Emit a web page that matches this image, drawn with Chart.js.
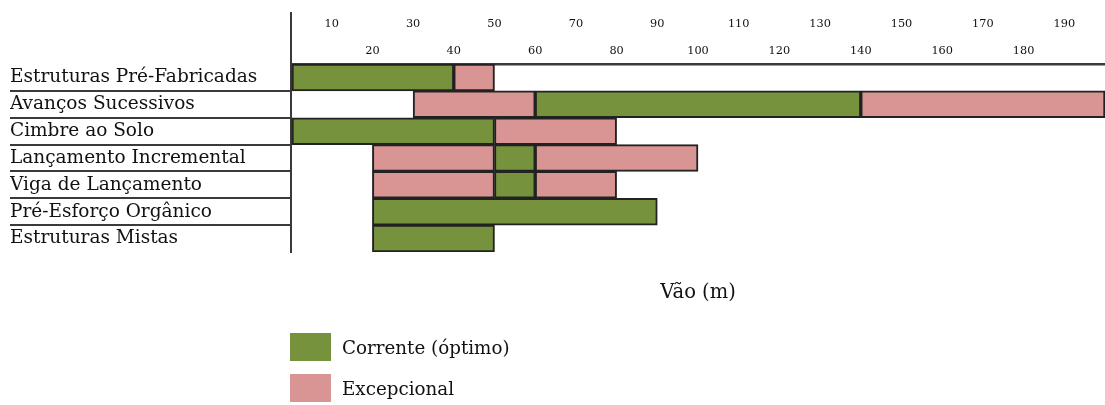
<!DOCTYPE html>
<html>
<head>
<meta charset="utf-8">
<title>Vão (m)</title>
<script src="https://cdn.jsdelivr.net/npm/chart.js@4.4.0/dist/chart.umd.min.js"></script>
<style>
    body { margin: 0; background: #fff; }
    #wrap { position: relative; width: 1105px; height: 405px; }
    #legend { position: absolute; left: 290px; top: 333px; font-family: 'DejaVu Serif', serif; font-size: 18.3px; color: #111; }
    .item { display: flex; align-items: center; height: 28px; margin-bottom: 13px; }
    .box { width: 41px; height: 28px; margin-right: 11px; }
</style>
</head>
<body>
<div id="wrap">
    <canvas id="spanChart"></canvas>
    <div id="legend"></div>
</div>
<script>
const categories = [
    'Estruturas Pré-Fabricadas',
    'Avanços Sucessivos',
    'Cimbre ao Solo',
    'Lançamento Incremental',
    'Viga de Lançamento',
    'Pré-Esforço Orgânico',
    'Estruturas Mistas'
];
// [start, end] span ranges in metres
const correnteRanges = [[0, 40], [60, 140], [0, 50], [50, 60], [50, 60], [20, 90], [20, 50]];
const excepcionalRanges = [[40, 50], [30, 60], [50, 80], [20, 50], [20, 50], null, null];
const excepcionalExtraRanges = [null, [140, 200], null, [60, 100], [60, 80], null, null];
const tickValues = [10, 20, 30, 40, 50, 60, 70, 80, 90, 100, 110, 120, 130, 140, 150, 160, 170, 180, 190];
const axisMin = 0;
const axisMax = 200;

const GREEN = '#76923C';
const PINK = '#D99594';
const serif = 'DejaVu Serif';

function buildLegend(chart) {
    const legend = document.getElementById('legend');
    legend.innerHTML = '';
    chart.data.datasets.forEach(ds => {
        if (ds.hideInLegend) return;
        const item = document.createElement('div');
        item.className = 'item';
        const box = document.createElement('span');
        box.className = 'box';
        box.style.background = ds.backgroundColor;
        const txt = document.createElement('span');
        txt.textContent = ds.label;
        item.appendChild(box);
        item.appendChild(txt);
        legend.appendChild(item);
    });
}

const barStyle = {
    borderColor: '#222',
    borderWidth: 2,
    borderSkipped: false,
    barPercentage: 1,
    categoryPercentage: 1,
    grouped: false,
    xAxisID: 'x'
};

const ctx = document.getElementById('spanChart').getContext('2d');
const chart = new Chart(ctx, {
    type: 'bar',
    data: {
        labels: categories,
        datasets: [
            Object.assign({ label: 'Corrente (óptimo)', data: correnteRanges, backgroundColor: GREEN }, barStyle),
            Object.assign({ label: 'Excepcional', data: excepcionalRanges, backgroundColor: PINK }, barStyle),
            Object.assign({ label: 'Excepcional', data: excepcionalExtraRanges, backgroundColor: PINK, hideInLegend: true }, barStyle)
        ]
    },
    options: {
        indexAxis: 'y',
        responsive: true,
        maintainAspectRatio: false,
        animation: false,
        layout: { padding: { left: 10, right: 0, top: 0, bottom: 93 } },
        plugins: {
            legend: { display: false },
            tooltip: { enabled: false }
        },
        scales: {
            x: {
                type: 'linear',
                position: 'top',
                min: axisMin,
                max: axisMax,
                afterBuildTicks: scale => {
                    scale.ticks = [axisMin].concat(tickValues).map(v => ({ value: v }));
                },
                afterFit: scale => { scale.height = 64; },
                grid: {
                    display: true,
                    drawOnChartArea: false,
                    drawTicks: true,
                    tickLength: 52,
                    lineWidth: 2,
                    color: c => (c.tick && c.tick.value === axisMin) ? '#3a3a3a' : 'rgba(0,0,0,0)'
                },
                border: { display: true, color: '#3a3a3a', width: 2.5 },
                ticks: {
                    autoSkip: false,
                    maxRotation: 0,
                    padding: -53,
                    color: '#111',
                    font: { family: serif, size: 11.3, lineHeight: 27 / 11.3 },
                    callback: function(value) {
                        const i = tickValues.indexOf(value);
                        if (i < 0) return ['', ''];
                        return i % 2 === 0 ? [String(value), ''] : ['', String(value)];
                    }
                }
            },
            x2: {
                type: 'linear',
                position: 'bottom',
                min: axisMin,
                max: axisMax,
                afterFit: scale => { scale.height = 60; },
                grid: { display: false },
                border: { display: false },
                ticks: { display: false },
                title: {
                    display: true,
                    text: 'Vão (m)',
                    color: '#111',
                    font: { family: serif, size: 19.5 },
                    padding: { top: 0, bottom: 7.6 }
                }
            },
            y: {
                position: 'left',
                offset: true,
                afterFit: scale => { scale.width = 281; },
                grid: {
                    display: true,
                    offset: true,
                    drawOnChartArea: false,
                    drawTicks: true,
                    tickLength: 281,
                    lineWidth: 2,
                    color: c => (c.type === 'tick' && c.index > 0) ? '#3a3a3a' : 'rgba(0,0,0,0)'
                },
                border: { display: true, color: '#3a3a3a', width: 2 },
                ticks: {
                    crossAlign: 'far',
                    padding: 0,
                    color: '#111',
                    font: { family: serif, size: 18.5 }
                }
            }
        }
    }
});

buildLegend(chart);
</script>
</body>
</html>
